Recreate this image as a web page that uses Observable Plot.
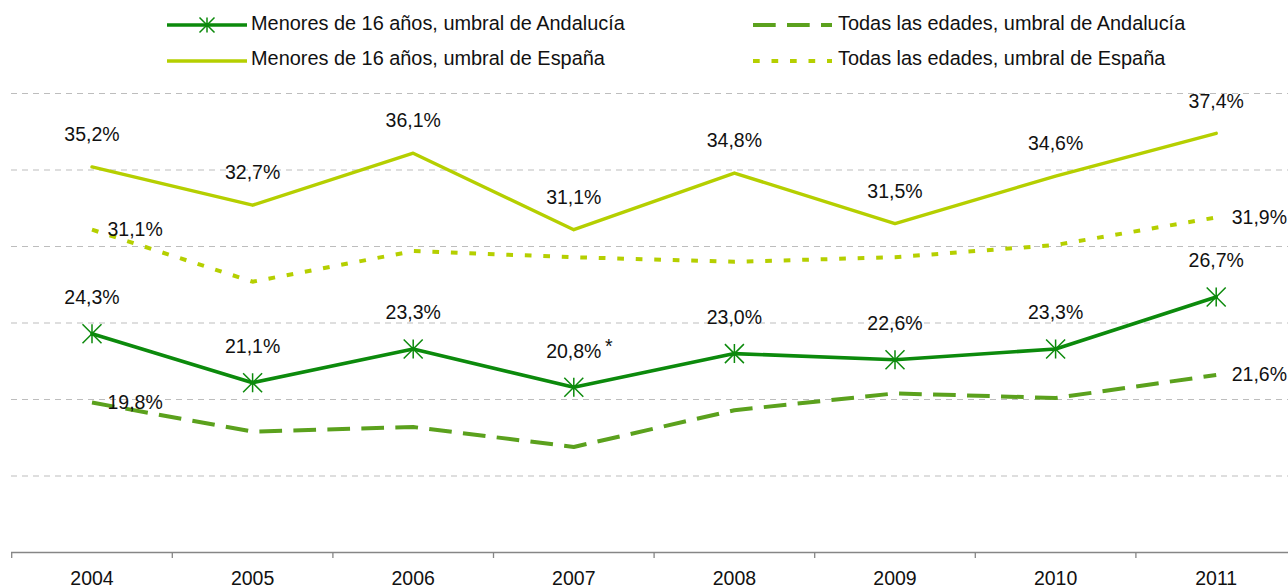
<!DOCTYPE html>
<html><head><meta charset="utf-8">
<script src="https://cdn.jsdelivr.net/npm/d3@7"></script>
<script src="https://cdn.jsdelivr.net/npm/@observablehq/plot@0.6"></script>
<style>
html,body{margin:0;padding:0;background:#fff;overflow:hidden;}
#wrap{position:relative;width:1288px;height:588px;font-family:"Liberation Sans",Arial,sans-serif;}
#chart{position:absolute;left:0;top:0;}
#legend{position:absolute;left:0;top:0;}
</style></head>
<body>
<div id="wrap"><div id="chart"></div><svg id="legend" width="1288" height="80"></svg></div>
<script>
// ---- data ----
const years = [2004, 2005, 2006, 2007, 2008, 2009, 2010, 2011];
const seriesNames = [
  "Menores de 16 años, umbral de Andalucía",
  "Menores de 16 años, umbral de España",
  "Todas las edades, umbral de Andalucía",
  "Todas las edades, umbral de España"
];
const menoresAndalucia = [24.3, 21.1, 23.3, 20.8, 23.0, 22.6, 23.3, 26.7];
const menoresEspana    = [35.2, 32.7, 36.1, 31.1, 34.8, 31.5, 34.6, 37.4];
const todasAndalucia   = [19.8, 17.9, 18.2, 16.9, 19.3, 20.4, 20.1, 21.6];
const todasEspana      = [31.1, 27.7, 29.7, 29.3, 29.0, 29.3, 30.1, 31.9];
const notes = ["", "", "", "*", "", "", "", ""];
const gridValues = [15, 20, 25, 30, 35, 40];
const baseValue = 10;

// ---- styles ----
const FONT = '"Liberation Sans", Arial, sans-serif';
const FS = 19.5;
const FS_LEGEND = 19.9;
const cDark = "#0c8a0c", cLight = "#b5cf00", cMid = "#5ba11d";

const fmt = v => v.toFixed(1).replace(".", ",") + "%";
const toRows = (vals, name) => years.map((year, i) => ({year, value: vals[i], series: name, note: notes[i], i}));
const rMA = toRows(menoresAndalucia, seriesNames[0]);
const rME = toRows(menoresEspana, seriesNames[1]);
const rTA = toRows(todasAndalucia, seriesNames[2]);
const rTE = toRows(todasEspana, seriesNames[3]);
const ends = rows => rows.filter((d, i) => i === 0 || i === rows.length - 1);
const boundaries = [...years.map(y => y - 0.5), years[years.length - 1] + 0.5];

const asterisk = {
  draw(ctx, size) {
    const r = Math.sqrt(size / Math.PI);
    ctx.moveTo(0, -r); ctx.lineTo(0, r);
    ctx.moveTo(-r, -r); ctx.lineTo(r, r);
    ctx.moveTo(-r, r); ctx.lineTo(r, -r);
  }
};

const chart = Plot.plot({
  width: 1288,
  height: 588,
  marginTop: 93,
  marginBottom: 36,
  marginLeft: 11,
  marginRight: 0,
  style: {fontFamily: FONT, fontSize: FS + "px", color: "#111", background: "white"},
  x: {type: "linear", domain: [boundaries[0], boundaries[boundaries.length - 1]], range: [11.2, 1296], label: null},
  y: {domain: [baseValue, 40], axis: null, label: null},
  marks: [
    Plot.gridY(gridValues, {stroke: "#bdbdbd", strokeOpacity: 1, strokeWidth: 1, strokeDasharray: "6,5"}),
    Plot.ruleY([baseValue], {stroke: "#868686", strokeWidth: 1.3}),
    Plot.axisX(boundaries, {tickSize: 6, tickFormat: () => "", stroke: "#868686", strokeWidth: 1.3, label: null}),
    Plot.axisX(years, {tickSize: 0, tickPadding: 19, tickFormat: d => String(d), fontSize: FS, fill: "#111", label: null}),
    Plot.lineY(rTA, {x: "year", y: "value", stroke: cMid, strokeWidth: 4, strokeDasharray: "22.7,11.3", strokeLinecap: "butt"}),
    Plot.lineY(rTE, {x: "year", y: "value", stroke: cLight, strokeWidth: 4, strokeDasharray: "6.7,11.8", strokeLinecap: "butt"}),
    Plot.lineY(rME, {x: "year", y: "value", stroke: cLight, strokeWidth: 3.4}),
    Plot.lineY(rMA, {x: "year", y: "value", stroke: cDark, strokeWidth: 3.6}),
    Plot.dot(rMA, {x: "year", y: "value", symbol: asterisk, r: 9.5, stroke: cDark, strokeWidth: 1.5, fill: "none"}),
    Plot.text(rME, {x: "year", y: "value", text: d => fmt(d.value), dy: -32, fontSize: FS, fill: "#111"}),
    Plot.text(rMA, {x: "year", y: "value", text: d => fmt(d.value), dy: -36, fontSize: FS, fill: "#111"}),
    Plot.text(rMA.filter(d => d.note), {x: "year", y: "value", text: "note", dx: 35, dy: -41, fontSize: FS, fill: "#111"}),
    Plot.text(ends(rTE), {x: "year", y: "value", text: d => fmt(d.value), dx: 15.5, textAnchor: "start", fontSize: FS, fill: "#111"}),
    Plot.text(ends(rTA), {x: "year", y: "value", text: d => fmt(d.value), dx: 15.5, textAnchor: "start", fontSize: FS, fill: "#111"})
  ]
});
document.getElementById("chart").append(chart);

// ---- legend ----
const legendItems = [
  {name: seriesNames[0], color: cDark, width: 3.6, dash: null, marker: true, col: 0, row: 0},
  {name: seriesNames[1], color: cLight, width: 3.4, dash: null, marker: false, col: 0, row: 1},
  {name: seriesNames[2], color: cMid, width: 4, dash: "22.7,11.3", marker: false, col: 1, row: 0},
  {name: seriesNames[3], color: cLight, width: 4, dash: "6.7,11.8", marker: false, col: 1, row: 1}
];
const cols = [{x0: 167, x1: 247, tx: 251}, {x0: 753, x1: 832, tx: 838}];
const rowsY = [{line: 25, text: 29.5}, {line: 61, text: 64.5}];
const lg = d3.select("#legend");
legendItems.forEach(it => {
  const c = cols[it.col], r = rowsY[it.row];
  lg.append("line").attr("x1", c.x0).attr("x2", c.x1).attr("y1", r.line).attr("y2", r.line)
    .attr("stroke", it.color).attr("stroke-width", it.width)
    .attr("stroke-dasharray", it.dash);
  if (it.marker) {
    const p = d3.path();
    asterisk.draw(p, 7.5 * 7.5 * Math.PI);
    lg.append("path").attr("d", p.toString())
      .attr("transform", `translate(${(c.x0 + c.x1) / 2},${r.line})`)
      .attr("stroke", it.color).attr("stroke-width", 1.5).attr("fill", "none");
  }
  lg.append("text").attr("x", c.tx).attr("y", r.text).text(it.name)
    .attr("font-family", FONT).attr("font-size", FS_LEGEND).attr("fill", "#111");
});
</script>
</body></html>
